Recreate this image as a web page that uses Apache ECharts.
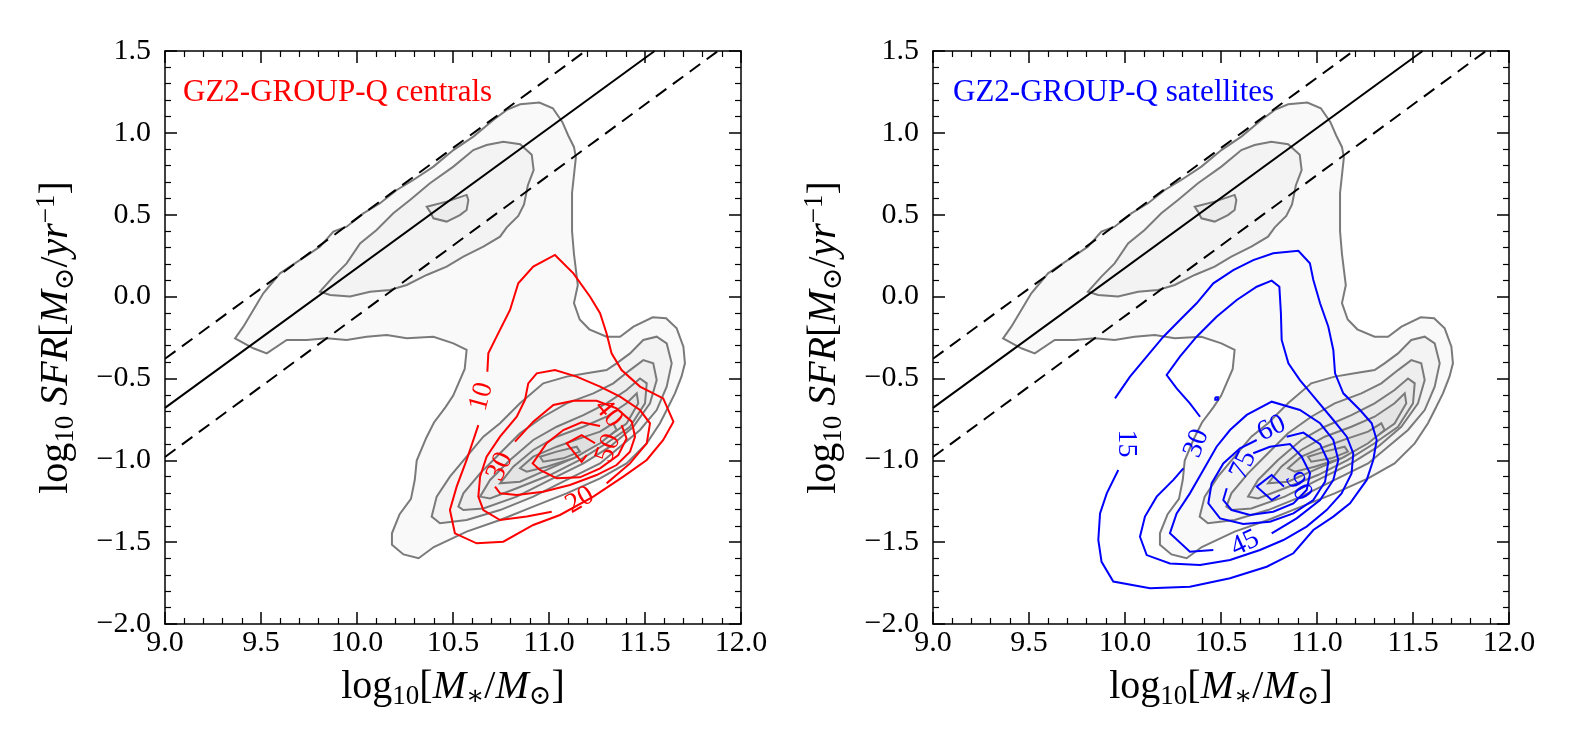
<!DOCTYPE html>
<html>
<head>
<meta charset="utf-8">
<script src="https://cdn.jsdelivr.net/npm/echarts@6/dist/echarts.min.js"></script>
<style>
  html, body { margin: 0; padding: 0; background: #fff; }
  #main { width: 1575px; height: 750px; }
</style>
</head>
<body>
<div id="main"></div>
<script>
// main sequence line and its +/- 0.3 dex band
var msLine = [[9.0, -0.68], [11.55, 1.5]];
var msUpper = [[9.0, -0.38], [11.19, 1.5]];
var msLower = [[9.0, -0.98], [11.88, 1.5]];

// grey background contours (same in both panels)
var grayOuter = [[9.365,-0.255],[9.408,-0.184],[9.460,-0.082],[9.512,0.020],[9.599,0.142],[9.651,0.183],[9.755,0.264],[9.807,0.305],[9.877,0.397],[9.946,0.427],[10.033,0.508],[10.120,0.570],[10.207,0.651],[10.293,0.712],[10.398,0.794],[10.502,0.895],[10.606,0.977],[10.710,1.079],[10.780,1.140],[10.85,1.175],[10.95,1.185],[11.02,1.15],[11.07,1.065],[11.10,0.984],[11.13,0.914],[11.14,0.85],[11.12,0.633],[11.12,0.40],[11.13,0.26],[11.15,0.07],[11.13,-0.04],[11.16,-0.14],[11.21,-0.20],[11.30,-0.245],[11.37,-0.245],[11.44,-0.184],[11.54,-0.127],[11.61,-0.133],[11.665,-0.194],[11.70,-0.306],[11.708,-0.408],[11.69,-0.489],[11.656,-0.591],[11.613,-0.693],[11.578,-0.774],[11.509,-0.897],[11.404,-1.019],[11.266,-1.110],[11.092,-1.202],[10.918,-1.283],[10.745,-1.365],[10.571,-1.436],[10.40,-1.53],[10.321,-1.598],[10.242,-1.575],[10.182,-1.516],[10.182,-1.446],[10.222,-1.329],[10.281,-1.236],[10.301,-1.119],[10.311,-1.002],[10.361,-0.862],[10.401,-0.769],[10.461,-0.675],[10.501,-0.605],[10.561,-0.442],[10.571,-0.326],[10.502,-0.286],[10.398,-0.245],[10.259,-0.255],[10.155,-0.235],[10.050,-0.245],[9.946,-0.265],[9.842,-0.255],[9.738,-0.265],[9.634,-0.265],[9.530,-0.347],[9.460,-0.316]];
var grayUpper2 = [[9.807,0.030],[9.877,0.122],[9.946,0.203],[10.016,0.325],[10.102,0.407],[10.189,0.509],[10.276,0.590],[10.380,0.692],[10.502,0.794],[10.606,0.895],[10.675,0.926],[10.762,0.946],[10.85,0.93],[10.91,0.867],[10.92,0.773],[10.89,0.680],[10.87,0.563],[10.84,0.493],[10.78,0.423],[10.745,0.366],[10.658,0.305],[10.554,0.244],[10.467,0.183],[10.363,0.132],[10.259,0.071],[10.172,0.040],[10.068,0.030],[9.964,0.000],[9.860,0.010]];
var grayUpper3 = [[10.363,0.549],[10.467,0.580],[10.571,0.621],[10.580,0.590],[10.571,0.529],[10.536,0.498],[10.467,0.458],[10.398,0.478],[10.380,0.519]];
var grayLower2 = [[10.389,-1.344],[10.415,-1.222],[10.484,-1.100],[10.571,-0.978],[10.658,-0.856],[10.745,-0.774],[10.849,-0.652],[10.970,-0.530],[11.092,-0.489],[11.196,-0.469],[11.300,-0.449],[11.352,-0.408],[11.422,-0.347],[11.491,-0.265],[11.561,-0.245],[11.613,-0.286],[11.639,-0.408],[11.613,-0.550],[11.561,-0.693],[11.474,-0.815],[11.370,-0.917],[11.266,-1.019],[11.092,-1.120],[10.918,-1.222],[10.745,-1.304],[10.571,-1.365],[10.432,-1.385]];
var grayLower3 = [[10.528,-1.283],[10.554,-1.202],[10.641,-1.080],[10.745,-0.957],[10.849,-0.835],[10.970,-0.734],[11.092,-0.652],[11.231,-0.591],[11.335,-0.530],[11.422,-0.449],[11.491,-0.388],[11.543,-0.408],[11.561,-0.510],[11.526,-0.652],[11.439,-0.795],[11.318,-0.917],[11.179,-1.019],[11.005,-1.120],[10.832,-1.222],[10.658,-1.294],[10.554,-1.304]];
var grayLower4 = [[10.641,-1.222],[10.693,-1.120],[10.797,-0.998],[10.918,-0.876],[11.040,-0.795],[11.179,-0.724],[11.300,-0.652],[11.404,-0.571],[11.474,-0.500],[11.509,-0.530],[11.500,-0.652],[11.422,-0.795],[11.300,-0.896],[11.161,-0.998],[11.005,-1.090],[10.832,-1.171],[10.693,-1.233]];
var grayLower5 = [[10.745,-1.141],[10.814,-1.039],[10.918,-0.937],[11.040,-0.856],[11.179,-0.795],[11.300,-0.734],[11.404,-0.652],[11.457,-0.591],[11.465,-0.652],[11.404,-0.775],[11.283,-0.876],[11.144,-0.978],[10.988,-1.059],[10.849,-1.131]];
var grayLower6 = [[10.849,-1.049],[10.918,-0.978],[11.040,-0.917],[11.161,-0.866],[11.266,-0.825],[11.335,-0.774],[11.352,-0.815],[11.266,-0.896],[11.127,-0.988],[10.988,-1.039],[10.884,-1.070]];
var grayLower7 = [[10.953,-0.978],[11.040,-0.947],[11.144,-0.917],[11.161,-0.947],[11.075,-0.988],[10.970,-1.009]];

// centrals (red) contours, open where the label sits
var red10 = [[10.679,-0.459],[10.684,-0.347],[10.727,-0.245],[10.797,-0.082],[10.840,0.081],[10.918,0.183],[11.031,0.254],[11.127,0.142],[11.214,-0.001],[11.266,-0.102],[11.300,-0.225],[11.326,-0.347],[11.378,-0.449],[11.474,-0.550],[11.595,-0.622],[11.648,-0.764],[11.595,-0.876],[11.509,-0.998],[11.387,-1.100],[11.231,-1.222],[11.057,-1.334],[10.918,-1.395],[10.762,-1.497],[10.623,-1.507],[10.510,-1.446],[10.484,-1.304],[10.519,-1.161],[10.571,-0.998],[10.632,-0.785]];
var red20 = [[11.300,-1.141],[11.422,-1.019],[11.509,-0.897],[11.526,-0.774],[11.474,-0.693],[11.370,-0.611],[11.266,-0.550],[11.144,-0.489],[11.031,-0.449],[10.936,-0.469],[10.892,-0.530],[10.875,-0.632],[10.832,-0.734],[10.745,-0.856],[10.675,-0.978],[10.641,-1.100],[10.632,-1.222],[10.658,-1.304],[10.745,-1.365],[10.884,-1.344],[11.014,-1.314]];
var red30 = [[10.823,-0.886],[10.918,-0.764],[11.023,-0.662],[11.127,-0.636],[11.248,-0.636],[11.352,-0.683],[11.431,-0.764],[11.448,-0.856],[11.422,-0.947],[11.352,-1.029],[11.248,-1.090],[11.109,-1.151],[10.970,-1.192],[10.832,-1.212],[10.745,-1.202],[10.719,-1.161]];
var red40 = [[11.266,-0.791],[11.170,-0.768],[11.075,-0.815],[10.988,-0.896],[10.915,-1.019],[10.953,-1.059],[11.040,-1.110],[11.161,-1.104],[11.266,-1.049],[11.361,-0.968],[11.404,-0.866],[11.378,-0.785]];
var red50 = [[11.196,-0.968],[11.170,-1.009],[11.092,-0.896],[11.170,-0.846],[11.240,-0.896]];
var redLabelText = ['10', '20', '30', '40', '50'];
var redLabelAt = [[10.649,-0.611],[11.161,-1.243],[10.745,-1.039],[11.309,-0.713],[11.309,-0.927]];
var redLabelAngle = [75, 30, 65, -50, 70];

// satellites (blue) contours
var blue15 = [[9.948,-0.622],[10.026,-0.489],[10.113,-0.367],[10.200,-0.245],[10.286,-0.143],[10.373,-0.041],[10.460,0.081],[10.564,0.162],[10.668,0.223],[10.772,0.264],[10.903,0.280],[10.963,0.203],[10.981,0.101],[11.016,-0.041],[11.059,-0.184],[11.085,-0.326],[11.094,-0.469],[11.137,-0.591],[11.224,-0.693],[11.285,-0.774],[11.311,-0.876],[11.293,-0.998],[11.259,-1.120],[11.172,-1.263],[11.085,-1.344],[10.981,-1.426],[10.877,-1.568],[10.738,-1.650],[10.547,-1.721],[10.338,-1.772],[10.130,-1.782],[9.939,-1.741],[9.878,-1.620],[9.861,-1.487],[9.870,-1.324],[9.905,-1.202],[9.965,-1.059]];
var blue30 = [[10.391,-0.734],[10.338,-0.652],[10.269,-0.561],[10.217,-0.479],[10.286,-0.367],[10.373,-0.245],[10.477,-0.123],[10.582,-0.021],[10.686,0.060],[10.764,0.097],[10.804,0.060],[10.812,-0.102],[10.816,-0.265],[10.851,-0.408],[10.911,-0.510],[10.998,-0.632],[11.085,-0.754],[11.155,-0.856],[11.189,-0.958],[11.180,-1.080],[11.128,-1.202],[11.050,-1.304],[10.946,-1.405],[10.825,-1.487],[10.703,-1.548],[10.547,-1.609],[10.391,-1.640],[10.234,-1.630],[10.113,-1.579],[10.078,-1.467],[10.104,-1.344],[10.165,-1.222],[10.252,-1.120],[10.304,-1.049]];
var blue30dot = [[10.470,-0.615],[10.484,-0.615],[10.484,-0.630],[10.470,-0.630],[10.470,-0.615]];
var blue45 = [[10.764,-1.446],[10.894,-1.355],[11.016,-1.243],[11.085,-1.120],[11.111,-0.998],[11.085,-0.876],[11.016,-0.774],[10.911,-0.693],[10.764,-0.642],[10.634,-0.723],[10.547,-0.815],[10.477,-0.917],[10.408,-1.059],[10.338,-1.202],[10.269,-1.324],[10.234,-1.446],[10.338,-1.558],[10.460,-1.548]];
var blue60 = [[10.842,-0.856],[10.929,-0.831],[11.016,-0.901],[11.059,-1.009],[11.042,-1.131],[10.981,-1.243],[10.877,-1.324],[10.755,-1.375],[10.616,-1.389],[10.495,-1.355],[10.434,-1.263],[10.451,-1.141],[10.512,-1.019],[10.599,-0.927],[10.686,-0.876]];
var blue75 = [[10.668,-0.957],[10.755,-0.917],[10.859,-0.901],[10.920,-0.978],[10.964,-1.080],[10.946,-1.182],[10.877,-1.263],[10.772,-1.314],[10.651,-1.334],[10.556,-1.304],[10.512,-1.243],[10.530,-1.171]];
var blue90 = [[10.807,-1.212],[10.764,-1.243],[10.686,-1.161],[10.764,-1.090],[10.828,-1.161]];
var blueLabelText = ['15', '30', '45', '60', '75', '90'];
var blueLabelAt = [[10.009,-0.897],[10.373,-0.897],[10.625,-1.507],[10.764,-0.805],[10.616,-1.029],[10.903,-1.161]];
var blueLabelAngle = [-90, 70, 25, 25, 65, -60];

var SERIF = '"Liberation Serif", "DejaVu Serif", serif';
var GREY_LINE = '#7a7a7a';

var myChart = echarts.init(document.getElementById('main'));

function fmtX(v) { return v.toFixed(1); }
function fmtY(v) { return (v < 0 ? '\u2212' : '') + Math.abs(v).toFixed(1); }

var nameRich = {
    n: { fontFamily: SERIF, fontSize: 40, lineHeight: 46, color: '#000' },
    i: { fontFamily: SERIF, fontSize: 40, lineHeight: 46, fontStyle: 'italic', color: '#000' },
    s: { fontFamily: SERIF, fontSize: 27, lineHeight: 27, verticalAlign: 'bottom', color: '#000' },
    p: { fontFamily: SERIF, fontSize: 27, lineHeight: 27, verticalAlign: 'top', color: '#000' }
};

function axisCommon() {
    return {
        type: 'value',
        splitLine: { show: false },
        axisLine: { show: true, onZero: false, lineStyle: { color: '#000', width: 1.5 } },
        axisTick: { show: true, inside: true, length: 12, lineStyle: { color: '#000', width: 1.5 } },
        minorTick: { show: true, splitNumber: 5, length: 6, lineStyle: { color: '#000', width: 1.2 } },
        minorSplitLine: { show: false }
    };
}

var xAxes = [], yAxes = [];
[0, 1].forEach(function (g) {
    var xb = axisCommon();
    xb.gridIndex = g; xb.min = 9; xb.max = 12; xb.interval = 0.5; xb.position = 'bottom';
    xb.axisLabel = { color: '#000', fontFamily: SERIF, fontSize: 30, margin: 4, formatter: fmtX, showMinLabel: true, showMaxLabel: true };
    xb.name = '{n|log}{s|10}{n|[}{i|M}{s|\u2217}{n|/}{i|M}{s|\u2299}{n|]}';
    xb.nameLocation = 'middle';
    xb.nameGap = 40;
    xb.nameTextStyle = { rich: nameRich };
    var xt = axisCommon();
    xt.gridIndex = g; xt.min = 9; xt.max = 12; xt.interval = 0.5; xt.position = 'top';
    xt.axisLabel = { show: false };
    xAxes.push(xb, xt);

    var yl = axisCommon();
    yl.gridIndex = g; yl.min = -2; yl.max = 1.5; yl.interval = 0.5; yl.position = 'left';
    yl.axisLabel = { color: '#000', fontFamily: SERIF, fontSize: 30, margin: 14, formatter: fmtY, showMinLabel: true, showMaxLabel: true };
    yl.name = '{n|log}{s|10}{i| SFR}{n|[}{i|M}{s|\u2299}{n|/}{i|yr}{p|\u22121}{n|]}';
    yl.nameLocation = 'middle';
    yl.nameGap = 86;
    yl.nameTextStyle = { rich: nameRich };
    var yr = axisCommon();
    yr.gridIndex = g; yr.min = -2; yr.max = 1.5; yr.interval = 0.5; yr.position = 'right';
    yr.axisLabel = { show: false };
    yAxes.push(yl, yr);
});

// filled grey contour polygon
function areaSeries(pts, fill, ax) {
    return {
        type: 'custom', xAxisIndex: ax, yAxisIndex: ax, data: pts, silent: true, z: 2,
        renderItem: function (params, api) {
            if (params.dataIndex !== 0) return null;
            return {
                type: 'polygon',
                shape: { points: pts.map(function (p) { return api.coord(p); }) },
                style: { fill: fill, stroke: GREY_LINE, lineWidth: 2 }
            };
        }
    };
}

// open contour line
function lineSeries(pts, color, ax) {
    return {
        type: 'custom', xAxisIndex: ax, yAxisIndex: ax, data: pts, silent: true, z: 6,
        renderItem: function (params, api) {
            if (params.dataIndex !== 0) return null;
            return {
                type: 'polyline',
                shape: { points: pts.map(function (p) { return api.coord(p); }) },
                style: { fill: 'none', stroke: color, lineWidth: 2 }
            };
        }
    };
}

function labelSeries(texts, at, angles, color, ax) {
    return {
        type: 'custom', xAxisIndex: ax, yAxisIndex: ax, data: at, silent: true, z: 7,
        renderItem: function (params, api) {
            var i = params.dataIndex;
            var c = api.coord(at[i]);
            return {
                type: 'text', x: c[0], y: c[1], rotation: angles[i] * Math.PI / 180,
                style: { text: texts[i], fill: color, font: '28px ' + SERIF, align: 'center', verticalAlign: 'middle' }
            };
        }
    };
}

function msSeries(pts, dashed, ax) {
    return {
        type: 'line', xAxisIndex: ax, yAxisIndex: ax, data: pts, symbol: 'none', silent: true, z: 5,
        lineStyle: { color: '#000', width: 2, type: dashed ? [13, 8] : 'solid' }
    };
}

var series = [];
[0, 2].forEach(function (ax) {
    series.push(areaSeries(grayOuter, '#f9f9f9', ax));
    series.push(areaSeries(grayUpper2, '#f3f3f3', ax));
    series.push(areaSeries(grayUpper3, '#ececec', ax));
    series.push(areaSeries(grayLower2, '#f3f3f3', ax));
    series.push(areaSeries(grayLower3, '#eeeeee', ax));
    series.push(areaSeries(grayLower4, '#e9e9e9', ax));
    series.push(areaSeries(grayLower5, '#e4e4e4', ax));
    series.push(areaSeries(grayLower6, '#dfdfdf', ax));
    series.push(areaSeries(grayLower7, '#dadada', ax));
    series.push(msSeries(msLine, false, ax));
    series.push(msSeries(msUpper, true, ax));
    series.push(msSeries(msLower, true, ax));
});
[red10, red20, red30, red40, red50].forEach(function (c) { series.push(lineSeries(c, '#ff0000', 0)); });
series.push(labelSeries(redLabelText, redLabelAt, redLabelAngle, '#ff0000', 0));
[blue15, blue30, blue30dot, blue45, blue60, blue75, blue90].forEach(function (c) { series.push(lineSeries(c, '#0000ff', 2)); });
series.push(labelSeries(blueLabelText, blueLabelAt, blueLabelAngle, '#0000ff', 2));

var option = {
    animation: false,
    backgroundColor: '#fff',
    grid: [
        { left: 165, top: 51, width: 576, height: 573, outerBoundsMode: 'none' },
        { left: 933, top: 51, width: 576, height: 573, outerBoundsMode: 'none' }
    ],
    xAxis: xAxes,
    yAxis: yAxes,
    graphic: [
        { type: 'text', left: 183, top: 77, z: 10, style: { text: 'GZ2-GROUP-Q centrals', fill: '#ff0000', font: '31px ' + SERIF } },
        { type: 'text', left: 953, top: 77, z: 10, style: { text: 'GZ2-GROUP-Q satellites', fill: '#0000ff', font: '31px ' + SERIF } }
    ],
    series: series
};

myChart.setOption(option);
</script>
</body>
</html>
